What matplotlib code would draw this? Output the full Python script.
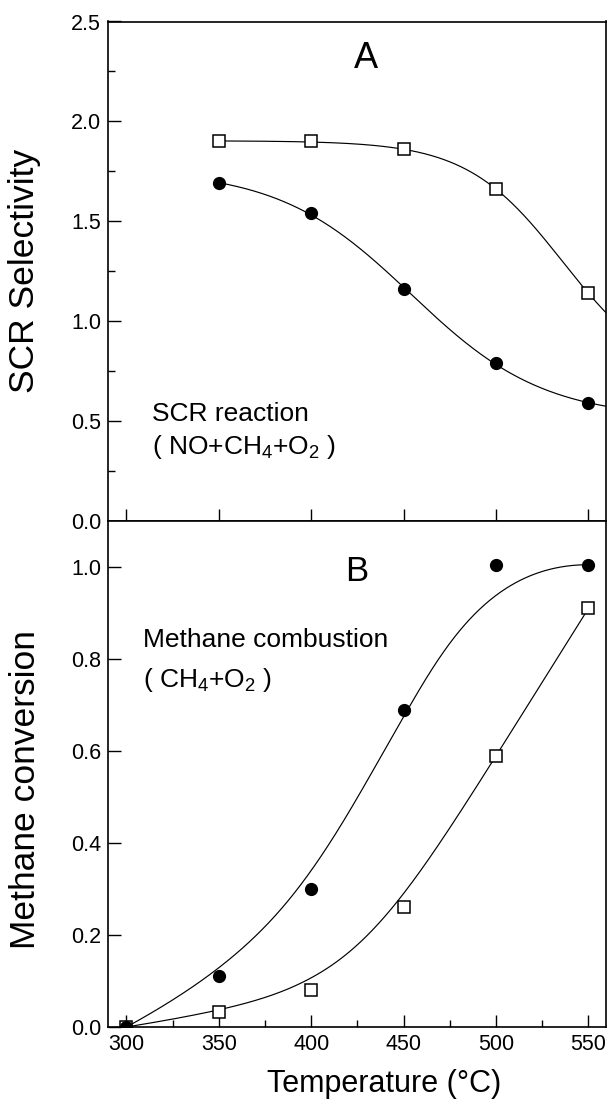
import numpy as np
import matplotlib
matplotlib.use("Agg")
import matplotlib.pyplot as plt
from matplotlib.ticker import MultipleLocator, FormatStrFormatter

plt.rcParams['font.family'] = ['Liberation Sans', 'DejaVu Sans']
plt.rcParams['mathtext.fontset'] = 'custom'
plt.rcParams['mathtext.rm'] = 'Liberation Sans'
plt.rcParams['mathtext.it'] = 'Liberation Sans:italic'

# ---- data ----
temp_top = [350, 400, 450, 500, 550]
scr_open = [1.90, 1.90, 1.86, 1.66, 1.14]
scr_filled = [1.69, 1.54, 1.16, 0.79, 0.59]

temp_bot = [300, 350, 400, 450, 500, 550]
conv_filled = [0.0, 0.11, 0.30, 0.69, 1.005, 1.005]
conv_open = [0.0, 0.033, 0.08, 0.26, 0.59, 0.91]

x_ticks = [300, 350, 400, 450, 500, 550]


def boltzmann_fit(x, y):
    """Least-squares fit of a Boltzmann sigmoid (grid over x0/dx, linear A1/A2)."""
    x = np.asarray(x, float)
    y = np.asarray(y, float)
    best = None
    for x0 in np.linspace(300, 750, 451):
        for dx in np.linspace(5, 200, 196):
            s = 1.0 / (1.0 + np.exp((x - x0) / dx))
            M = np.column_stack([s, 1 - s])
            coef, *_ = np.linalg.lstsq(M, y, rcond=None)
            err = np.sum((M @ coef - y) ** 2)
            if best is None or err < best[0]:
                best = (err, coef[0], coef[1], x0, dx)
    _, a1, a2, x0, dx = best
    return lambda t: a2 + (a1 - a2) / (1.0 + np.exp((t - x0) / dx))


def bspline(xs, ys, k=3, n=400):
    """Clamped uniform B-spline using the data points as control points."""
    P = np.column_stack([xs, ys]).astype(float)
    m = len(P)
    nspan = m - k
    t = np.concatenate([np.zeros(k), np.arange(nspan + 1), np.full(k, nspan)]).astype(float)
    u = np.linspace(0, nspan, n)
    u[-1] -= 1e-9

    def N(i, d):
        if d == 0:
            return ((t[i] <= u) & (u < t[i + 1])).astype(float)
        a = np.zeros_like(u)
        b = np.zeros_like(u)
        if t[i + d] != t[i]:
            a = (u - t[i]) / (t[i + d] - t[i]) * N(i, d - 1)
        if t[i + d + 1] != t[i + 1]:
            b = (t[i + d + 1] - u) / (t[i + d + 1] - t[i + 1]) * N(i + 1, d - 1)
        return a + b

    B = np.column_stack([N(i, k) for i in range(m)])
    C = B @ P
    return C[:, 0], C[:, 1]


W, H = 610, 1107
fig = plt.figure(figsize=(W / 100, H / 100), dpi=100)
left = 108 / W
right = 606 / W
y_top = 1 - 21.5 / H
y_mid = 1 - 521 / H
y_bot = 1 - 1027 / H
ax1 = fig.add_axes([left, y_mid, right - left, y_top - y_mid])
ax2 = fig.add_axes([left, y_bot, right - left, y_mid - y_bot])

XLIM = (290, 559.5)
lw = 0.85
msq = dict(marker='s', ms=8.3, mfc='white', mec='black', mew=1.1, ls='none', zorder=4)
mci = dict(marker='o', ms=8.5, mfc='black', mec='black', ls='none', zorder=5)

# ---- top panel ----
t = np.linspace(350, XLIM[1], 300)
ax1.plot(t, boltzmann_fit(temp_top, scr_open)(t), color='black', lw=lw)
ax1.plot(t, boltzmann_fit(temp_top, scr_filled)(t), color='black', lw=lw)
ax1.plot(temp_top, scr_open, **msq)
ax1.plot(temp_top, scr_filled, **mci)
ax1.set_xlim(*XLIM)
ax1.set_ylim(0, 2.5)
ax1.yaxis.set_major_locator(MultipleLocator(0.5))
ax1.yaxis.set_minor_locator(MultipleLocator(0.25))
ax1.set_xticks(x_ticks)
ax1.tick_params(axis='x', which='both', labelbottom=False)
ax1.yaxis.set_major_formatter(FormatStrFormatter('%.1f'))
ax1.text(429.6, 2.315, 'A', fontsize=26, ha='center', va='center')
ax1.text(314, 0.50, 'SCR reaction', fontsize=19, ha='left', va='baseline')
ax1.text(314, 0.333, '( NO+CH$_\\mathregular{4}$+O$_\\mathregular{2}$ )', fontsize=19,
         ha='left', va='baseline')

# ---- bottom panel ----
bx, by = bspline(temp_bot, conv_filled)
ax2.plot(bx, by, color='black', lw=lw)
bx, by = bspline(temp_bot, conv_open)
ax2.plot(bx, by, color='black', lw=lw)
ax2.plot(temp_bot, conv_open, **msq)
ax2.plot(temp_bot, conv_filled, **mci)
ax2.set_xlim(*XLIM)
ax2.set_ylim(0, 1.1)
ax2.set_yticks([0.0, 0.2, 0.4, 0.6, 0.8, 1.0])
ax2.set_xticks(x_ticks)
ax2.xaxis.set_minor_locator(MultipleLocator(25))
ax2.yaxis.set_major_formatter(FormatStrFormatter('%.1f'))
ax2.text(424.5, 0.99, 'B', fontsize=25, ha='center', va='center')
ax2.text(309, 0.827, 'Methane combustion', fontsize=19, ha='left', va='baseline')
ax2.text(309, 0.74, '( CH$_\\mathregular{4}$+O$_\\mathregular{2}$ )', fontsize=19,
         ha='left', va='baseline')

for ax in (ax1, ax2):
    ax.tick_params(which='major', direction='in', length=9, width=1.0, labelsize=15.5, pad=5)
    ax.tick_params(which='minor', direction='in', length=5, width=1.0)
    for s in ax.spines.values():
        s.set_linewidth(1.2)

fig.text(25 / W, 1 - 271 / H, 'SCR Selectivity', rotation=90, fontsize=25.5,
         ha='center', va='center')
fig.text(26 / W, 1 - 790 / H, 'Methane conversion', rotation=90, fontsize=25.5,
         ha='center', va='center')
fig.text(384 / W, 1 - 1084 / H, 'Temperature (°C)', fontsize=22, ha='center', va='center')

fig.savefig('out.png', dpi=100)
